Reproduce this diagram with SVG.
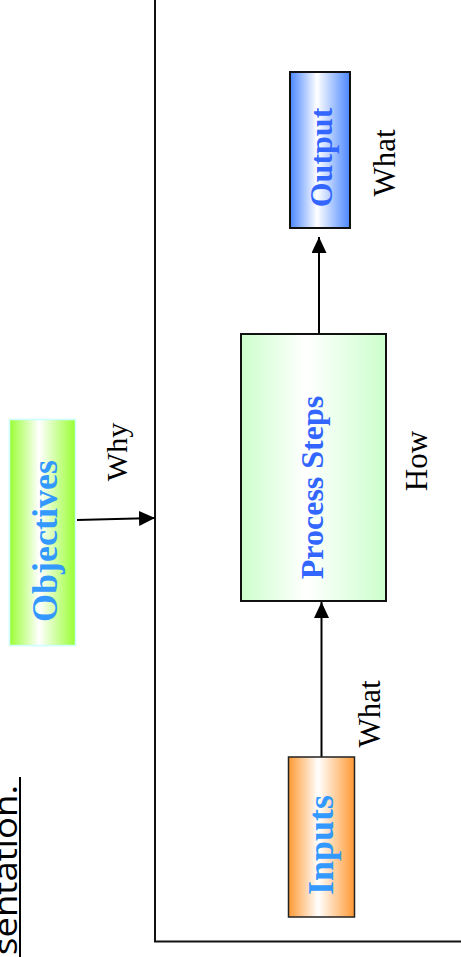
<svg xmlns="http://www.w3.org/2000/svg" width="461" height="957" viewBox="0 0 461 957">
<defs>
<style>
.lbl{font-family:"Liberation Serif","Times New Roman",serif;font-weight:bold;text-anchor:middle}
.cap{font-family:"Liberation Serif","Times New Roman",serif;fill:#000;text-anchor:middle}
.conn{stroke:#000;stroke-width:2;fill:none}
.box{stroke:#111;stroke-width:2}
</style>
<linearGradient id="gGreen" x1="0" y1="0" x2="1" y2="0">
<stop offset="0" stop-color="#99ff33"/><stop offset="0.45" stop-color="#ffffff"/><stop offset="1" stop-color="#99ff33"/>
</linearGradient>
<linearGradient id="gBlue" x1="0" y1="0" x2="1" y2="0">
<stop offset="0" stop-color="#4a86ff"/><stop offset="0.45" stop-color="#ffffff"/><stop offset="1" stop-color="#4a86ff"/>
</linearGradient>
<linearGradient id="gPale" x1="0" y1="0" x2="1" y2="0">
<stop offset="0" stop-color="#ccffcc"/><stop offset="0.45" stop-color="#ffffff"/><stop offset="1" stop-color="#ccffcc"/>
</linearGradient>
<linearGradient id="gOrange" x1="0" y1="0" x2="1" y2="0">
<stop offset="0" stop-color="#ff9933"/><stop offset="0.45" stop-color="#ffffff"/><stop offset="1" stop-color="#ff9933"/>
</linearGradient>
<marker id="arr" markerUnits="userSpaceOnUse" markerWidth="16" markerHeight="15" refX="16" refY="7.5" orient="auto">
<path d="M0,0 L16,7.5 L0,15 z" fill="#000"/>
</marker>
</defs>
<rect width="461" height="957" fill="#fff"/>

<g id="title">
<text transform="translate(17,955) rotate(-90)" font-family="'Open Sans','Liberation Sans',sans-serif" font-size="32" fill="#000" textLength="170" lengthAdjust="spacingAndGlyphs">sentation.</text>
<line x1="20" y1="777" x2="20" y2="957" stroke="#000" stroke-width="2"/>
</g>

<g id="frame">
<polyline points="155,0 155,941.5 461,941.5" fill="none" stroke="#111" stroke-width="2"/>
</g>

<g id="connectors">
<line class="conn" x1="77" y1="520" x2="155" y2="518" marker-end="url(#arr)"/>
<line class="conn" x1="319" y1="334" x2="319" y2="237" marker-end="url(#arr)"/>
<line class="conn" x1="321.5" y1="757" x2="321.5" y2="602" marker-end="url(#arr)"/>
</g>

<g id="objectives">
<rect x="9.5" y="419.5" width="66" height="226" fill="url(#gGreen)" stroke="#ccffff" stroke-width="1.5"/>
<text class="lbl" transform="translate(57,541) rotate(-90)" font-size="36" fill="#3399ff">Objectives</text>
</g>
<g id="why">
<text class="cap" transform="translate(127,452) rotate(-90)" font-size="30">Why</text>
</g>

<g id="output">
<rect class="box" x="290" y="72" width="60" height="156" fill="url(#gBlue)"/>
<text class="lbl" transform="translate(332,157.5) rotate(-90)" font-size="32" fill="#3366ff">Output</text>
</g>
<g id="what-top">
<text class="cap" transform="translate(395,163) rotate(-90)" font-size="31">What</text>
</g>

<g id="process">
<rect class="box" x="241" y="334" width="145" height="267" fill="url(#gPale)"/>
<text class="lbl" transform="translate(323,487.5) rotate(-90)" font-size="32" fill="#3366ff">Process Steps</text>
</g>
<g id="how">
<text class="cap" transform="translate(427,461) rotate(-90)" font-size="31">How</text>
</g>

<g id="inputs">
<rect x="288.5" y="757" width="66" height="160" fill="url(#gOrange)" stroke="#222" stroke-width="1.5"/>
<text class="lbl" transform="translate(333,845) rotate(-90)" font-size="36" fill="#3399ff">Inputs</text>
</g>
<g id="what-bottom">
<text class="cap" transform="translate(380,714) rotate(-90)" font-size="31">What</text>
</g>
</svg>
